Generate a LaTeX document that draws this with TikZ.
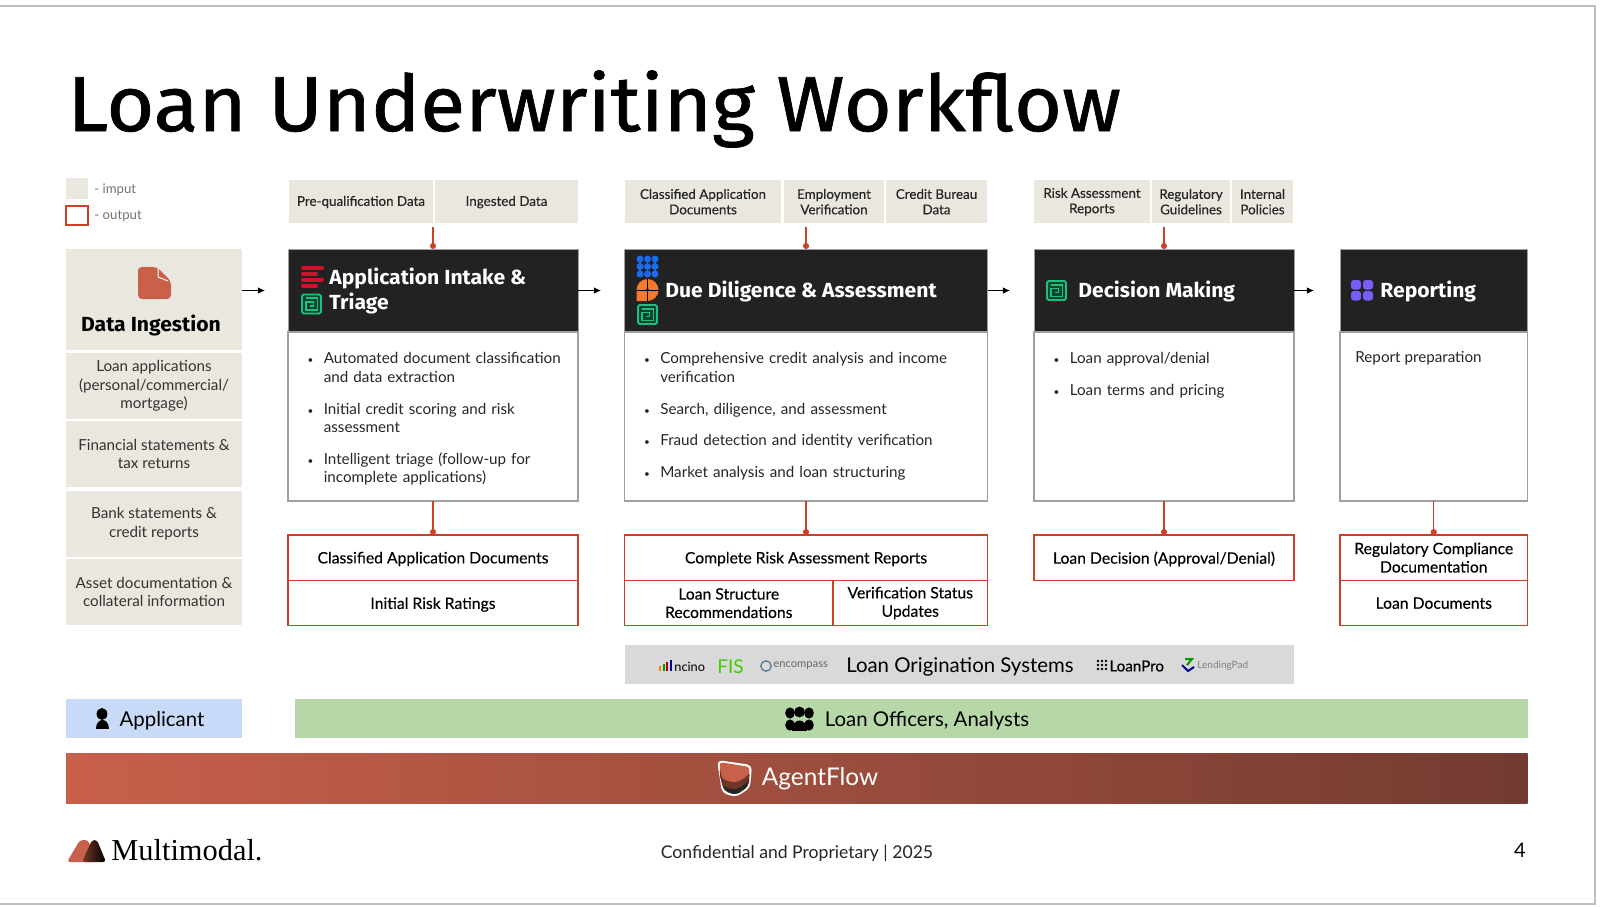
\documentclass[tikz,border=0pt]{standalone}
\usepackage{fontspec}
\setmainfont{Lato}
\newfontfamily\medfont[FakeBold=0.25]{Lato}
\newfontfamily\headfont[FakeStretch=1.035]{Fira Sans}
\newfontfamily\titlefont[FakeBold=0.9,FakeStretch=1.055]{Fira Sans}
\newfontfamily\logofont{Liberation Serif}
\usetikzlibrary{arrows.meta}
\definecolor{inputfill}{HTML}{EAE7DF}
\definecolor{outred}{HTML}{CC4125}
\definecolor{bodygray}{HTML}{A0A0A0}
\definecolor{headdark}{HTML}{222222}
\definecolor{clay}{HTML}{C8604A}
\definecolor{clayend}{HTML}{733B31}
\definecolor{spiralgreen}{HTML}{21BF7F}
\definecolor{stackred}{HTML}{D0122C}
\definecolor{gridblue}{HTML}{1A6BF0}
\definecolor{archorange}{HTML}{F4792B}
\definecolor{tilepurple}{HTML}{7A5CFA}
\definecolor{appblue}{HTML}{C9DAF8}
\definecolor{offgreen}{HTML}{B6D7A8}
\newenvironment{bullets}{\begin{list}{\tiny\textbullet}{\setlength{\leftmargin}{6.7pt}\setlength{\labelwidth}{4pt}\setlength{\labelsep}{5.2pt}\setlength{\itemsep}{6.6pt}\setlength{\parsep}{0pt}\setlength{\topsep}{0pt}\setlength{\partopsep}{0pt}}}{\end{list}}
\tikzset{
	boxbase/.style={anchor=north west,inner sep=0pt,outer sep=0pt,align=center},
	inbox/.style={boxbase,fill=inputfill,text=black!85,minimum height=21.7pt,font=\medfont\fontsize{6.7}{7.7}\selectfont},
	sidebox/.style={boxbase,fill=inputfill,text=black!80,minimum width=88pt,minimum height=32.8pt,font=\fontsize{7.6}{9.2}\selectfont},
	headbar/.style={boxbase,fill=headdark,draw=bodygray,line width=0.5pt,minimum height=41.5pt},
	bodybox/.style={boxbase,fill=white,draw=bodygray,line width=0.75pt,minimum height=84.5pt},
	outbox/.style={boxbase,fill=white,draw=outred,line width=0.7pt,minimum height=22.6pt,font=\medfont\fontsize{7.85}{9.2}\selectfont},
	oneline/.style={text depth=0pt},
	headtext/.style={anchor=west,inner sep=0pt,text=white,align=left,font=\headfont\bfseries\fontsize{10.2}{12.6}\selectfont},
	bodytext/.style={anchor=north west,inner sep=0pt,align=left,text=black!85,font=\fontsize{7.6}{9.25}\selectfont},
	bandtext/.style={anchor=center,inner sep=0pt,font=\fontsize{10.2}{12}\selectfont},
	inline/.style={draw=outred,line width=0.6pt,-{Circle[length=3pt]}},
	flowarrow/.style={draw=black,line width=0.6pt,-{Latex[length=3.6pt,width=3.4pt]}},
	spiralicon/.pic={
		\fill[spiralgreen!35!black,rounded corners=1pt] (-10.5,-10.5) rectangle (10.5,10.5);
		\draw[spiralgreen,line width=0.9pt,rounded corners=0.8pt] (-9.5,-9.5) rectangle (9.5,9.5);
		\draw[spiralgreen,line width=0.8pt] (-5.8,-5.8) -- (5.8,-5.8) -- (5.8,5.8) -- (-5.8,5.8) -- (-5.8,-2) -- (2,-2) -- (2,2) -- (-2,2);
	},
}
\begin{document}
\begin{tikzpicture}[x=0.5pt,y=-0.5pt]
	\useasboundingbox (0,0) rectangle (1600,906);
	\fill[white] (0,0) rectangle (1600,906);
	\draw[black!25,line width=0.6pt] (-2,6) -- (1595,6) -- (1595,904) -- (-2,904);
	% title
	\node (title)[anchor=base west,inner sep=0pt,font=\titlefont\fontsize{39}{42}\selectfont] at (67,131) {Loan Underwriting Workflow};
	% legend
	\node (leginput)[boxbase,fill=inputfill,minimum width=11pt,minimum height=10.5pt] at (66,178) {};
	\node (legoutput)[boxbase,draw=outred,line width=0.7pt,minimum width=11pt,minimum height=9.5pt] at (66,206) {};
	\node (leginputtext)[anchor=west,inner sep=0pt,text=black!55,font=\fontsize{6.6}{8}\selectfont] at (94,189.5) {- imput};
	\node (legoutputtext)[anchor=west,inner sep=0pt,text=black!55,font=\fontsize{6.6}{8}\selectfont] at (94,216) {- output};
	% data ingestion column
	\node (dihead)[boxbase,fill=inputfill,minimum width=88pt,minimum height=50.5pt] at (66,249) {};
	\node (dititle)[anchor=center,inner sep=0pt,font=\headfont\bfseries\fontsize{10.2}{12}\selectfont] at (151,325) {Data Ingestion};
	\node (di1)[sidebox] at (66,353) {Loan applications\\(personal/commercial/\\mortgage)};
	\node (di2)[sidebox] at (66,421) {Financial statements \&\\tax returns};
	\node (di3)[sidebox] at (66,491) {Bank statements \&\\credit reports};
	\node (di4)[sidebox] at (66,559) {Asset documentation \&\\collateral information};
	\fill[clay,rounded corners=2pt] (138,272) -- (138,267) -- (157,267) -- (171,281) -- (171,299) -- (138,299) -- cycle;
	\draw[white,line width=0.5pt] (158,268) -- (158,277) -- (168,281);
	% input boxes
	\node (in1a)[inbox,text depth=0.8pt,minimum width=72pt] at (289,180) {Pre-qualification Data};
	\node (in1b)[inbox,text depth=0.8pt,minimum width=71.5pt] at (435,180) {Ingested Data};
	\node (in2a)[inbox,minimum width=78pt] at (625,180) {Classified Application\\Documents};
	\node (in2b)[inbox,minimum width=50pt] at (784,180) {Employment\\Verification};
	\node (in2c)[inbox,minimum width=50.5pt] at (886,180) {Credit Bureau\\Data};
	\node (in3a)[inbox,minimum width=58pt] at (1034,180) {Risk Assessment\\Reports};
	\node (in3b)[inbox,minimum width=39pt] at (1152,180) {Regulatory\\Guidelines};
	\node (in3c)[inbox,minimum width=30.5pt] at (1232,180) {Internal\\Policies};
	% head bars
	\node (hd1)[headbar,minimum width=145pt] at (288,249) {};
	\node (hd2)[headbar,minimum width=181.5pt] at (624.5,249) {};
	\node (hd3)[headbar,minimum width=130pt] at (1034,249) {};
	\node (hd4)[headbar,minimum width=93.75pt] at (1340,249) {};
	\node (hdtext1)[headtext] at (329,291) {Application Intake \&\\Triage};
	\node (hdtext2)[headtext] at (665,291) {Due Diligence \& Assessment};
	\node (hdtext3)[headtext] at (1078,291) {Decision Making};
	\node (hdtext4)[headtext] at (1380,291) {Reporting};
	% icons in the head bars
	\foreach \yy/\xx in {267.5/322,273.5/316,279.5/322,285.5/316}
		\draw[stackred,line width=2pt,line cap=round] (303,\yy) -- (\xx,\yy);
	\pic at (311.5,304) {spiralicon};
	\pic at (647.5,314.5) {spiralicon};
	\pic at (1056.5,290.5) {spiralicon};
	\draw[gridblue,line width=0.9pt] (640,259) -- (640,274) (647.5,259) -- (647.5,274) (655,259) -- (655,274) (640,266.5) -- (655,266.5);
	\foreach \xx in {640,647.5,655}
		\foreach \yy in {259,266.5,274}
			\fill[gridblue] (\xx,\yy) circle (1.75pt);
	\fill[archorange] (636.5,301) -- (636.5,290) arc (180:360:11) arc (0:90:11) -- cycle;
	\draw[black,line width=0.25pt] (636.5,290) -- (658.5,290) (647.5,279) -- (647.5,301);
	\fill[black] (647.5,290) circle (0.8pt);
	\foreach \xx in {1351,1363}
		\foreach \yy in {280,291}
			\fill[tilepurple,rounded corners=1.4pt] (\xx,\yy) rectangle ++(10,9.5);
	% body boxes
	\node (bd1)[bodybox,minimum width=145pt] at (288,332) {};
	\node (bd2)[bodybox,minimum width=181.5pt] at (624.5,332) {};
	\node (bd3)[bodybox,minimum width=130pt] at (1034,332) {};
	\node (bd4)[bodybox,minimum width=93.75pt] at (1340,332) {};
	\node (tx1)[bodytext,text width=132pt] at (310,345) {\begin{bullets}
		\item Automated document classification\\and data extraction
		\item Initial credit scoring and risk\\assessment
		\item Intelligent triage (follow-up for\\incomplete applications)
	\end{bullets}};
	\node (tx2)[bodytext,text width=165pt] at (646.5,345) {\begin{bullets}
		\item Comprehensive credit analysis and income\\verification
		\item Search, diligence, and assessment
		\item Fraud detection and identity verification
		\item Market analysis and loan structuring
	\end{bullets}};
	\node (tx3)[bodytext,text width=110pt] at (1056,345) {\begin{bullets}
		\item Loan approval/denial
		\item Loan terms and pricing
	\end{bullets}};
	\node (tx4)[bodytext] at (1355,351) {Report preparation};
	% output boxes
	\node (out1a)[outbox,oneline,minimum width=145pt] at (288,535) {Classified Application Documents};
	\node (out1b)[outbox,oneline,minimum width=145pt] at (288,580.5) {Initial Risk Ratings};
	\node (out2a)[outbox,oneline,minimum width=181.5pt] at (624.5,535) {Complete Risk Assessment Reports};
	\node (out2b)[outbox,minimum width=104.25pt] at (624.5,580.5) {Loan Structure\\Recommendations};
	\node (out2c)[outbox,minimum width=77.25pt] at (833,580.5) {Verification Status\\Updates};
	\node (out3a)[outbox,oneline,minimum width=130pt] at (1034,535) {Loan Decision (Approval/Denial)};
	\node (out4a)[outbox,minimum width=93.75pt] at (1340,535) {Regulatory Compliance\\Documentation};
	\node (out4b)[outbox,oneline,minimum width=93.75pt] at (1340,580.5) {Loan Documents};
	% connectors
	\coordinate (top1) at (433,227);
	\coordinate (top2) at (806,227);
	\coordinate (top3) at (1164,227);
	\draw[inline] (top1) -- (hd1.north);
	\draw[inline] (top2) -- (hd2.north);
	\draw[inline] (top3) -- (hd3.north);
	\draw[inline] (bd1.south) -- (out1a.north);
	\draw[inline] (bd2.south) -- (out2a.north);
	\draw[inline] (bd3.south) -- (out3a.north);
	\draw[inline] (bd4.south) -- (out4a.north);
	\coordinate (flow0a) at (242,290.5);
	\coordinate (flow0b) at (265,290.5);
	\coordinate (flow1) at (601,290.5);
	\coordinate (flow2) at (1010,290.5);
	\coordinate (flow3) at (1314,290.5);
	\draw[flowarrow] (flow0a) -- (flow0b);
	\draw[flowarrow] (hd1.east) -- (flow1);
	\draw[flowarrow] (hd2.east) -- (flow2);
	\draw[flowarrow] (hd3.east) -- (flow3);
	% loan origination band
	\node (losband)[boxbase,fill=black!15,minimum width=334.75pt,minimum height=19.5pt] at (624.5,645) {};
	\node (lostext)[bandtext] at (960,667) {Loan Origination Systems};
	\foreach \xx/\hh/\cc in {660/5/orange,663.5/7/green!60!black,667/9/red!70!black,670.5/11/blue!60!black}
		\draw[\cc,line width=1pt] (\xx,671) -- ++(0,-\hh);
	\node (ncino)[anchor=west,inner sep=0pt,font=\fontsize{6.4}{7}\selectfont] at (674,667) {ncino};
	\node (fis)[anchor=west,inner sep=0pt,text=green!55!lime!80!black,font=\fontsize{9.5}{10}\selectfont] at (717,667) {FIS};
	\draw[cyan!50!black,line width=0.6pt] (766,666) circle (2.6pt);
	\node (encompass)[anchor=west,inner sep=0pt,text=black!60,font=\fontsize{5.6}{7}\selectfont] at (773,666) {encompass};
	\foreach \xx in {1098,1102,1106}
		\foreach \yy in {661,665,669}
			\fill[black] (\xx,\yy) circle (0.7pt);
	\node (loanpro)[anchor=west,inner sep=0pt,font=\medfont\fontsize{7.6}{9}\selectfont] at (1109,666) {LoanPro};
	\draw[green!60!black,line width=1pt] (1187,665) -- (1192,659) -- (1185,659);
	\draw[blue!60!black,line width=1pt] (1182,665) -- (1188,671) -- (1194,667);
	\node (lendingpad)[anchor=west,inner sep=0pt,text=black!50,font=\fontsize{5}{6}\selectfont] at (1197,665.5) {LendingPad};
	% people bands
	\node (appband)[boxbase,fill=appblue,minimum width=88pt,minimum height=19.5pt] at (66,699) {};
	\node (offband)[boxbase,fill=offgreen,minimum width=616.25pt,minimum height=19.5pt] at (295,699) {};
	\node (apptext)[bandtext] at (162,721) {Applicant};
	\node (offtext)[bandtext] at (927,721) {Loan Officers, Analysts};
	\fill[black] (102,714) ellipse (2.7pt and 3pt);
	\fill[black] (95.5,729) .. controls (95.5,717) and (108.5,717) .. (108.5,729) -- cycle;
	\foreach \xx/\yy in {790/713,809/713,790/725,809/725}
		\fill[black] (\xx,\yy) ellipse (2.4pt and 2.8pt);
	\fill[black] (799.5,712) circle (2.7pt);
	\fill[black] (792,731) .. controls (792,717) and (807,717) .. (807,731) -- cycle;
	% agentflow band
	\node (agentband)[boxbase,left color=clay,right color=clayend,minimum width=730.75pt,minimum height=25pt] at (66,753) {};
	\fill[white,rounded corners=2.5pt] (717,760) -- (752,765) -- (750,788) -- (736,797) -- (722,793) -- cycle;
	\fill[black!85,rounded corners=2pt] (719,772) -- (750,775) -- (748,787) -- (736,795) -- (724,791) -- cycle;
	\fill[clay!55!black,rounded corners=2pt] (719,768) -- (750,771) -- (749,781) -- (736,790) -- (722,786) -- cycle;
	\fill[clay,rounded corners=2pt] (719,762) -- (750,767) -- (749,775) -- (736,783) -- (722,779) -- cycle;
	\node (agenttext)[anchor=center,inner sep=0pt,text=white,font=\fontsize{12.2}{15}\selectfont] at (820,779) {AgentFlow};
	% footer
	\fill[clay,rounded corners=1.5pt] (67,862) -- (80,840) -- (88,840) -- (96,862) -- cycle;
	\shade[left color=clay!60!black,right color=black,rounded corners=1.5pt] (82,862) -- (92,840) -- (97,840) -- (106,862) -- cycle;
	\node (brand)[anchor=west,inner sep=0pt,font=\logofont\fontsize{15.2}{18}\selectfont] at (111,850) {Multimodal.};
	\node (footer)[anchor=center,inner sep=0pt,text=black!85,font=\fontsize{8.8}{10}\selectfont] at (797,853) {Confidential and Proprietary | 2025};
	\node (pagenum)[anchor=center,inner sep=0pt,font=\fontsize{10}{12}\selectfont] at (1520,850) {4};
\end{tikzpicture}
\end{document}
